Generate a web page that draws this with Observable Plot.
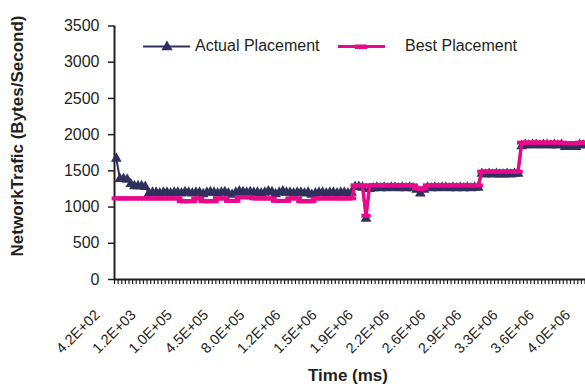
<!DOCTYPE html>
<html><head><meta charset="utf-8">
<script src="https://cdn.jsdelivr.net/npm/d3@7"></script>
<script src="https://cdn.jsdelivr.net/npm/@observablehq/plot@0.6"></script>
<style>
body{margin:0;background:#fff;overflow:hidden}
#wrap{position:relative;width:585px;height:384px;overflow:hidden;background:#fff;font-family:"Liberation Sans",Arial,sans-serif}
#wrap > svg{position:absolute;left:0;top:0;max-width:none !important;height:384px !important}
</style></head><body><div id="wrap"></div>
<script>
// ---- data ----
const timeLabels = ["4.2E+02","1.2E+03","1.0E+05","4.5E+05","8.0E+05","1.2E+06","1.5E+06","1.9E+06","2.2E+06","2.6E+06","2.9E+06","3.3E+06","3.6E+06","4.0E+06"];
const labelEvery = 10;
const yTicks = [0, 500, 1000, 1500, 2000, 2500, 3000, 3500];
const seriesNames = ["Actual Placement", "Best Placement"];
const actual = [
  1670,1390,1390,1380,1320,1290,1290,1290,1280,
  1190,1200,1200,1190,1200,1200,1190,1200,1200,1190,
  1210,1200,1190,1200,1200,1180,1200,1210,1200,1190,
  1200,1210,1190,1170,1200,1220,1210,1200,1210,1200,
  1200,1190,1200,1220,1210,1180,1200,1220,1200,1200,
  1190,1200,1200,1190,1200,1170,1190,1200,1200,1190,
  1200,1200,1190,1200,1200,1190,1200,
  1280,1280,1270,
  840,
  1250,1260,1270,1260,1270,1260,1270,1270,1260,1270,1260,1270,1260,
  1240,1190,1240,
  1270,1260,1270,1260,1270,1270,1260,1270,1260,1270,1260,1270,1260,1270,1270,
  1460,1450,1460,1450,1460,1450,1450,1460,1450,1460,1460,
  1840,1860,1850,1860,1860,1850,1860,1860,1850,1860,1850,1860,1830,1830,1830,1830,1860,1850,1860,1860,1850,1860
];
const best = [
  1120,1120,1120,1120,1120,1120,1120,1120,1120,1120,
  1120,1120,1120,1120,1120,1120,1120,1120,
  1080,1080,1080,1080,
  1120,1120,
  1080,1080,1080,1080,
  1120,1120,1120,
  1085,1085,1085,
  1135,1135,1135,1135,
  1120,1120,1120,1120,1120,1120,
  1085,1085,1085,1085,
  1120,1120,1120,
  1080,1080,1080,1080,
  1120,1120,1120,1120,1120,1120,1120,1120,1120,1120,1120,
  1300,1300,1300,
  880,
  1300,1300,1300,1300,1300,1300,1300,1300,1300,1300,1300,1300,1300,
  1260,1250,1260,
  1300,1300,1300,1300,1300,1300,1300,1300,1300,1300,1300,1300,1300,1300,1300,
  1490,1490,1490,1490,1490,1490,1490,1490,1490,1490,1490,
  1890,1890,1890,1890,1890,1890,1890,1890,1890,1890,1890,1890,1880,1880,1880,1880,1890,1890,1890,1890,1890,1890
];

// ---- styling ----
const navy = "#30305f";
const pink = "#e8088a";
const ink = "#231f20";
const font = "'Liberation Sans', Arial, sans-serif";

const dash = {draw(ctx, size) { const r = Math.sqrt(size / Math.PI); ctx.rect(-r * 1.3, -r * 0.55, r * 2.6, r * 1.1); }};

const N = actual.length;
const boundaries = d3.range(N + 1).map(i => i - 0.5);

const chart = Plot.plot({
  width: 600, height: 384,
  marginLeft: 114, marginRight: 1, marginTop: 25.5, marginBottom: 105,
  x: {domain: [-0.5, N - 0.5]},
  y: {domain: [0, 3500]},
  style: {fontFamily: font, color: ink, background: "white", overflow: "visible"},
  marks: [
    Plot.axisY({ticks: yTicks, tickFormat: d => String(d), tickSize: 6, tickPadding: 9, fontSize: 16, label: null, strokeWidth: 1.5}),
    Plot.axisX({ticks: boundaries, tickSize: 5, tickFormat: () => "", label: null, strokeWidth: 1.2}),
    Plot.text(timeLabels, {x: (d, k) => k * labelEvery, frameAnchor: "bottom", text: d => d, rotate: -45,
      textAnchor: "end", lineAnchor: "middle", dx: -19, dy: 33, fontSize: 14.5, fill: ink}),
    Plot.ruleX([-0.5], {stroke: ink, strokeWidth: 2}),
    Plot.ruleY([0], {stroke: ink, strokeWidth: 2}),
    Plot.line(actual, {x: (d, i) => i, y: d => d, stroke: navy, strokeWidth: 2}),
    Plot.dot(actual, {x: (d, i) => i, y: d => d, symbol: "triangle", fill: navy, r: 4}),
    Plot.line(best, {x: (d, i) => i, y: d => d, stroke: pink, strokeWidth: 3.5}),
    Plot.dot(best, {x: (d, i) => i, y: d => d, symbol: dash, fill: pink, r: 3.6})
  ]
});
chart.style.maxWidth = "none";
chart.style.height = "384px";
const wrap = document.getElementById("wrap");
wrap.appendChild(chart);

// ---- overlay: axis titles and legend ----
const ov = d3.select(wrap).append("svg").attr("width", 585).attr("height", 384)
  .style("font-family", font).style("pointer-events", "none");
ov.append("text").attr("transform", "translate(17.5,136) rotate(-90)")
  .attr("text-anchor", "middle").attr("dominant-baseline", "central")
  .attr("font-weight", "bold").attr("font-size", 17).attr("fill", ink)
  .text("NetworkTrafic (Bytes/Second)");
ov.append("text").attr("x", 348).attr("y", 380.5).attr("text-anchor", "middle")
  .attr("font-weight", "bold").attr("font-size", 17).attr("fill", ink).text("Time (ms)");

// legend item 1
ov.append("line").attr("x1", 143).attr("x2", 190).attr("y1", 46.5).attr("y2", 46.5)
  .attr("stroke", navy).attr("stroke-width", 2);
ov.append("path").attr("transform", "translate(167,47)")
  .attr("d", d3.symbol(d3.symbolTriangle, Math.PI * 4.2 * 4.2)()).attr("fill", navy);
ov.append("text").attr("x", 195).attr("y", 50.5).attr("font-size", 16).attr("fill", ink).text(seriesNames[0]);
// legend item 2
ov.append("line").attr("x1", 338).attr("x2", 385).attr("y1", 46.5).attr("y2", 46.5)
  .attr("stroke", pink).attr("stroke-width", 3);
ov.append("rect").attr("x", 355).attr("y", 44.5).attr("width", 12).attr("height", 4.5).attr("fill", pink);
ov.append("text").attr("x", 405).attr("y", 50.5).attr("font-size", 16).attr("fill", ink).text(seriesNames[1]);
</script></body></html>
